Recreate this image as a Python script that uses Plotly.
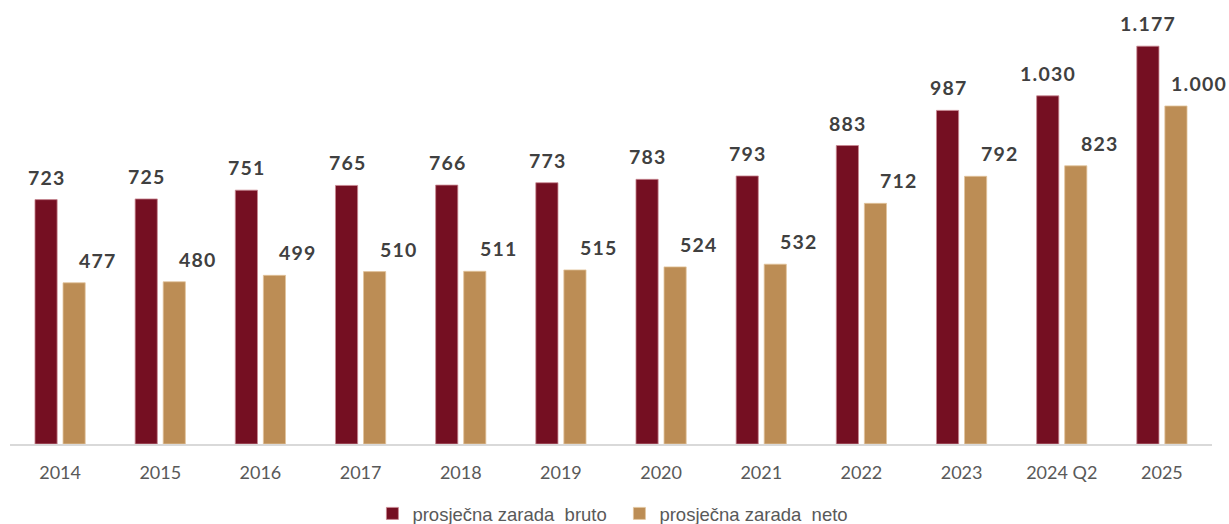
import plotly.graph_objects as go

years = ["2014", "2015", "2016", "2017", "2018", "2019", "2020", "2021",
         "2022", "2023", "2024 Q2", "2025"]
bruto = [723, 725, 751, 765, 766, 773, 783, 793, 883, 987, 1030, 1177]
neto = [477, 480, 499, 510, 511, 515, 524, 532, 712, 792, 823, 1000]

BRUTO_COLOR = "#750F22"
NETO_COLOR = "#BC8D55"
HAIR = "\u200a"  # hair space used as letter spacing in the value labels


def fmt(v):
    # thousands separated by a dot, slightly tracked out
    s = f"{v:,}".replace(",", ".")
    return HAIR.join(s)


fig = go.Figure()
fig.add_trace(go.Bar(
    x=years, y=bruto, name="prosječna zarada&nbsp;&nbsp;bruto",
    marker=dict(color=BRUTO_COLOR, line=dict(color="#c98892", width=0.8)),
))
fig.add_trace(go.Bar(
    x=years, y=neto, name="prosječna zarada&nbsp;&nbsp;neto",
    marker=dict(color=NETO_COLOR, line=dict(color="#e2c49c", width=0.8)),
))

label_font = dict(family="Lato", size=19.5, color="#404040")
annotations = []
for i, (b, n) in enumerate(zip(bruto, neto)):
    annotations.append(dict(
        x=i, y=b, xref="x", yref="y", text="<b>" + fmt(b) + "</b>",
        showarrow=False, xshift=-14, yshift=9, yanchor="bottom", font=label_font,
    ))
    annotations.append(dict(
        x=i, y=n, xref="x", yref="y", text="<b>" + fmt(n) + "</b>",
        showarrow=False, xshift=37, yshift=9, yanchor="bottom", font=label_font,
    ))

fig.update_layout(
    width=1229, height=524,
    margin=dict(l=10, r=17, t=10, b=80, autoexpand=False),
    paper_bgcolor="white", plot_bgcolor="white",
    barmode="group", bargap=0.44, bargroupgap=0.21,
    annotations=annotations,
    showlegend=True,
    legend=dict(
        orientation="h", x=0.507, xanchor="center", y=-0.161, yanchor="middle",
        font=dict(family="Liberation Sans", size=18.5, color="#595959"),
        entrywidth=202, entrywidthmode="pixels",
    ),
    xaxis=dict(
        type="category", categoryorder="array", categoryarray=years,
        range=[-0.5, len(years) - 0.5], automargin=False,
        showgrid=False, showline=True, linecolor="#d9d9d9", linewidth=1.5,
        ticks="outside", ticklen=12, tickcolor="rgba(0,0,0,0)",
        tickfont=dict(family="Lato", size=18, color="#595959"),
    ),
    yaxis=dict(
        range=[0, 1284], showgrid=False, showticklabels=False,
        zeroline=False, showline=False, automargin=False,
    ),
)

fig.write_html("out.html")
